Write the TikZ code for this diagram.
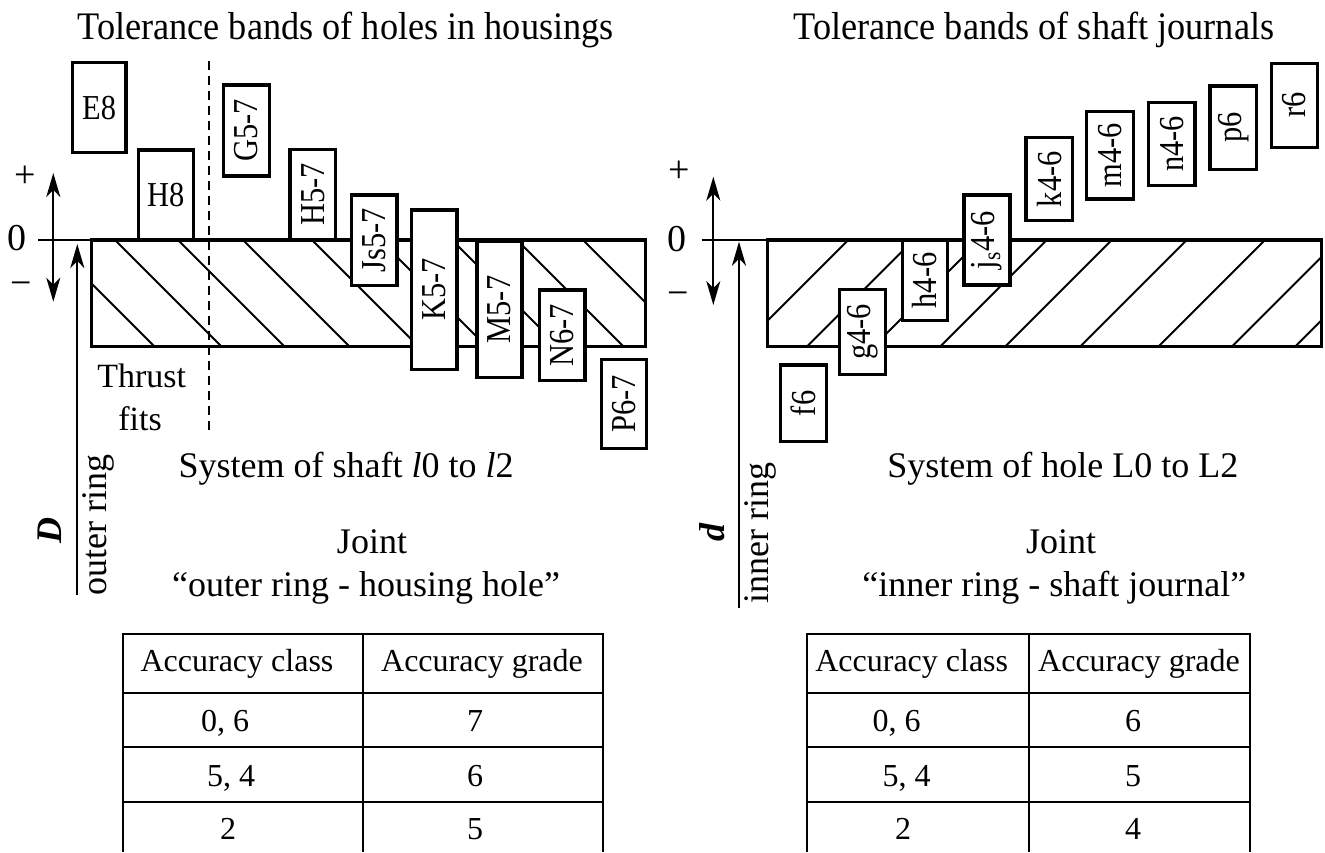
\documentclass[tikz,border=0pt]{standalone}
\usepackage{fontspec}
\setmainfont{Liberation Serif}
\newfontfamily\titlefont[FakeStretch=0.93]{Liberation Serif}
\newfontfamily\boxfont[FakeStretch=0.87]{Liberation Serif}
\usetikzlibrary{arrows.meta}
\newcommand\vbandbox[6]{%
  \draw[band] (#2,#3) rectangle (#4,#5);
  \node[lbl,rotate=90] (#1) at ({(#2+#4)/2},{(#3+#5)/2}) {#6};}
\newcommand\hbandbox[6]{%
  \draw[band] (#2,#3) rectangle (#4,#5);
  \node[lbl] (#1) at ({(#2+#4)/2},{(#3+#5)/2}) {#6};}
\begin{document}
\begin{tikzpicture}[x=0.5pt,y=-0.5pt,
  ttl/.style={font=\titlefont\fontsize{19.5}{22}\selectfont, inner sep=0pt},
  txt/.style={font=\fontsize{18}{21}\selectfont, inner sep=0pt},
  sgn/.style={font=\fontsize{19}{22}\selectfont, inner sep=0pt},
  txtb/.style={font=\fontsize{17}{20}\selectfont, inner sep=0pt},
  lbl/.style={font=\boxfont\fontsize{17.5}{20}\selectfont, inner sep=0pt},
  tab/.style={font=\fontsize{16}{19}\selectfont, inner sep=0pt},
  band/.style={draw, line width=1.6pt, fill=white},
  frame/.style={draw, line width=1.6pt},
  hatch/.style={line width=1pt},
  thinl/.style={line width=1pt},
  grid/.style={line width=1.1pt},
  tip/.tip={Stealth[length=12pt,width=7pt,inset=3.5pt]},
  arr/.style={line width=1pt, -tip},
  darr/.style={line width=1pt, tip-tip},
  dashline/.style={line width=1pt, dash pattern=on 4.5pt off 3pt},
]
\fill[white] (0,0) rectangle (1325,852);
\useasboundingbox (0,0) rectangle (1325,852);

% ---------- titles ----------
\node[ttl, anchor=base west] (title1) at (77,39.3) {Tolerance bands of holes in housings};
\node[ttl, anchor=base west] (title2) at (793,39.3) {Tolerance bands of shaft journals};

% ================= LEFT DIAGRAM =================
\begin{scope}
  \clip (91.7,240) rectangle (645.7,346.7);
  \foreach \t in {48,115,178,243,312,380,452,517,583}
    \draw[hatch] (\t,240) -- ++(106.7,106.7);
\end{scope}
\draw[frame] (91.7,240) rectangle (645.7,346.7);
\coordinate (lz0) at (38.3,240);
\coordinate (lz1) at (91.7,240);
\draw[thinl] (lz0) -- (lz1);

\hbandbox{e8}{72.3}{62.7}{126}{152.7}{E8}
\hbandbox{h8}{138.3}{150}{193.3}{240}{H8}
\vbandbox{g57}{223.3}{85}{269.3}{176}{G5-7}
\vbandbox{h57}{290}{149.3}{335.7}{240}{H5-7}
\vbandbox{js57}{351.5}{195}{397}{285.7}{Js5-7}
\vbandbox{k57}{411.5}{210}{457}{369.3}{K5-7}
\vbandbox{m57}{477}{241.7}{522}{377.3}{M5-7}
\vbandbox{n67}{539.5}{290}{585}{380.7}{N6-7}
\vbandbox{p67}{601.5}{359.3}{646.5}{448.3}{P6-7}

\coordinate (dtop) at (209,60.7);
\coordinate (dbot) at (209,435);
\draw[dashline] (dtop) -- (dbot);

\node[sgn] (lplus) at (25,176.7) {+};
\node[sgn] (lzero) at (16.7,238.3) {0};
\node[sgn] (lminus) at (21.7,288.3) {−};
\coordinate (la1) at (53.3,173);
\coordinate (la2) at (53.3,301.7);
\draw[darr] (la1) -- (la2);
\coordinate (lD0) at (77.3,595);
\coordinate (lD1) at (77.3,244);
\draw[arr] (lD0) -- (lD1);
\node[txt, rotate=90] (Dlab) at (50,530) {\textbf{\textit{D}}};
\node[txt, rotate=90, anchor=base west] (outer) at (106.7,596) {outer ring};

\node[txtb, anchor=base] (thrust) at (141.7,387.3) {Thrust};
\node[txtb, anchor=base] (fits) at (140,430) {fits};

\node[txt, anchor=base west] (sysl) at (178.3,477) {System of shaft \textit{l}0 to \textit{l}2};
\node[txt, anchor=base] (jointl) at (372,553.3) {Joint};
\node[txt, anchor=base west] (jointl2) at (171.7,596.7) {“outer ring - housing hole”};

% ---------- left table ----------
\draw[grid] (123.3,852) -- (123.3,634) -- (603.3,634) -- (603.3,852);
\draw[grid] (363.3,634) -- (363.3,852);
\foreach \yy in {692.7,747.3,801.7}
  \draw[grid] (123.3,\yy) -- (603.3,\yy);
\node[tab, anchor=base] (lh1) at (237,671.7) {Accuracy class};
\node[tab, anchor=base] (lh2) at (482,671.7) {Accuracy grade};
\node[tab, anchor=base] (lr1a) at (225,731.7) {0, 6};
\node[tab, anchor=base] (lr1b) at (475,731.7) {7};
\node[tab, anchor=base] (lr2a) at (231,786.7) {5, 4};
\node[tab, anchor=base] (lr2b) at (475,786.7) {6};
\node[tab, anchor=base] (lr3a) at (228,839) {2};
\node[tab, anchor=base] (lr3b) at (475,839) {5};

% ================= RIGHT DIAGRAM =================
\begin{scope}
  \clip (767.3,240) rectangle (1321.7,346.7);
  \foreach \t in {848.3,913.4,980,1046.7,1111.7,1186.7,1265,1338.4,1401.7}
    \draw[hatch] (\t,240) -- ++(-106.7,106.7);
\end{scope}
\draw[frame] (767.3,240) rectangle (1321.7,346.7);
\coordinate (rz0) at (701.7,240);
\coordinate (rz1) at (767.3,240);
\draw[thinl] (rz0) -- (rz1);

\vbandbox{f6}{780.7}{365}{826.7}{441.7}{f6}
\vbandbox{g46}{839.3}{289.3}{885.7}{374.3}{g4-6}
\vbandbox{h46}{902.3}{240}{947.7}{320.7}{h4-6}
\vbandbox{js46}{964}{195}{1010}{285}{j\textsubscript{s}4-6}
\vbandbox{k46}{1026}{137.7}{1072.3}{220.7}{k4-6}
\vbandbox{m46}{1086.7}{111.7}{1133.3}{199}{m4-6}
\vbandbox{n46}{1148.3}{102.3}{1195}{185.7}{n4-6}
\vbandbox{p6}{1210}{86}{1256.7}{169.3}{p6}
\vbandbox{r6}{1271.7}{63.3}{1317.3}{147.3}{r6}

\node[sgn] (rplus) at (679,171.7) {+};
\node[sgn] (rzero) at (676.7,239.3) {0};
\node[sgn] (rminus) at (678.3,298.3) {−};
\coordinate (ra1) at (713.3,176.7);
\coordinate (ra2) at (713.3,305);
\draw[darr] (ra1) -- (ra2);
\coordinate (rd0) at (739,608);
\coordinate (rd1) at (739,241.7);
\draw[arr] (rd0) -- (rd1);
\node[txt, rotate=90] (dlab) at (712,532) {\textbf{\textit{d}}};
\node[txt, rotate=90, anchor=base west] (inner) at (768,604) {inner ring};

\node[txt, anchor=base west] (sysr) at (887,477) {System of hole L0 to L2};
\node[txt, anchor=base] (jointr) at (1061,553.3) {Joint};
\node[txt, anchor=base west] (jointr2) at (862,596.7) {“inner ring - shaft journal”};

% ---------- right table ----------
\draw[grid] (806.7,852) -- (806.7,634) -- (1250,634) -- (1250,852);
\draw[grid] (1029,634) -- (1029,852);
\foreach \yy in {692.7,747.3,801.7}
  \draw[grid] (806.7,\yy) -- (1250,\yy);
\node[tab, anchor=base] (rh1) at (911.7,671.7) {Accuracy class};
\node[tab, anchor=base] (rh2) at (1139,671.7) {Accuracy grade};
\node[tab, anchor=base] (rr1a) at (896.7,731.7) {0, 6};
\node[tab, anchor=base] (rr1b) at (1133,731.7) {6};
\node[tab, anchor=base] (rr2a) at (906.7,786.7) {5, 4};
\node[tab, anchor=base] (rr2b) at (1133,786.7) {5};
\node[tab, anchor=base] (rr3a) at (903,839) {2};
\node[tab, anchor=base] (rr3b) at (1133,839) {4};
\end{tikzpicture}
\end{document}
